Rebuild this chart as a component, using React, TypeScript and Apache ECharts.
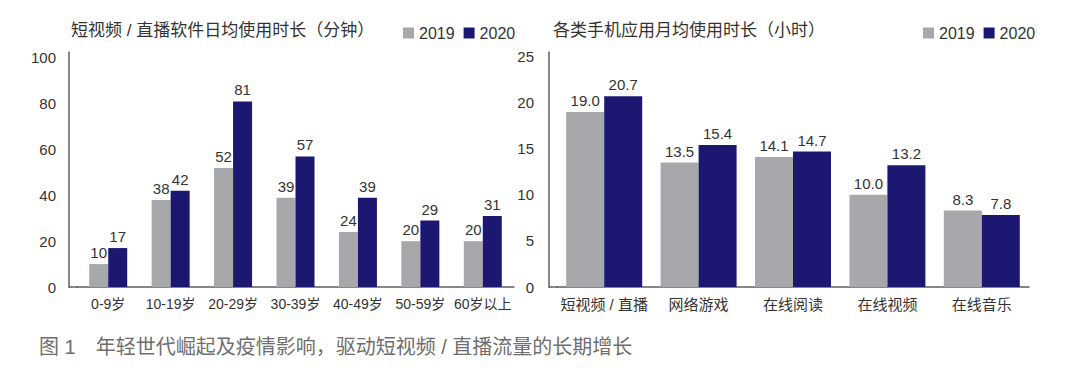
import React, { useEffect, useRef } from "react";
import * as echarts from "echarts";

const ageGroups = ["0-9岁", "10-19岁", "20-29岁", "30-39岁", "40-49岁", "50-59岁", "60岁以上"];
const dailyMinutes2019 = [10, 38, 52, 39, 24, 20, 20];
const dailyMinutes2020 = [17, 42, 81, 57, 39, 29, 31];

const appTypes = ["短视频 / 直播", "网络游戏", "在线阅读", "在线视频", "在线音乐"];
const monthlyHours2019 = [19.0, 13.5, 14.1, 10.0, 8.3];
const monthlyHours2020 = [20.7, 15.4, 14.7, 13.2, 7.8];

const leftTitle = "短视频 / 直播软件日均使用时长（分钟）";
const rightTitle = "各类手机应用月均使用时长（小时）";
const caption = "图 1　年轻世代崛起及疫情影响，驱动短视频 / 直播流量的长期增长";
const years = ["2019", "2020"];

const GRAY = "#a7a8ab";
const NAVY = "#1c1872";
const AXIS = "#5f5f5f";
const FONT = "'Liberation Sans', 'Noto Sans CJK SC', sans-serif";

export default function App() {
  const ref = useRef<HTMLDivElement>(null);
  useEffect(() => {
    if (!ref.current) return;
    const chart = echarts.init(ref.current, null, { renderer: "svg" });
    const labelStyle = { show: true, position: "top", color: "#333", fontSize: 15, fontFamily: FONT, distance: 4 };
    chart.setOption({
      animation: false,
      backgroundColor: "#fff",
      textStyle: { fontFamily: FONT },
      title: [
        { text: leftTitle, left: 66, top: 17, textStyle: { fontSize: 17, fontWeight: "normal", color: "#333", fontFamily: FONT } },
        { text: rightTitle, left: 548, top: 17, textStyle: { fontSize: 17, fontWeight: "normal", color: "#333", fontFamily: FONT } },
        { text: caption, left: 34, top: 332, textStyle: { fontSize: 20, fontWeight: "normal", color: "#6e6e6e", fontFamily: FONT } },
      ],
      legend: [
        { data: years, left: 398, top: 20, itemWidth: 11, itemHeight: 11, itemGap: 9, icon: "rect", textStyle: { fontSize: 16, color: "#333", fontFamily: FONT } },
        { data: years, left: 918, top: 20, itemWidth: 11, itemHeight: 11, itemGap: 9, icon: "rect", textStyle: { fontSize: 16, color: "#333", fontFamily: FONT } },
      ],
      grid: [
        { left: 77, top: 52, width: 437, height: 235 },
        { left: 557, top: 52, width: 472, height: 235 },
      ],
      xAxis: [
        {
          type: "category", gridIndex: 0, data: ageGroups,
          axisLine: { lineStyle: { color: AXIS, width: 1.5 } }, axisTick: { show: false },
          axisLabel: { fontSize: 14, color: "#333", margin: 10, fontFamily: FONT, interval: 0 },
        },
        {
          type: "category", gridIndex: 1, data: appTypes,
          axisLine: { lineStyle: { color: AXIS, width: 1.5 } }, axisTick: { show: false },
          axisLabel: { fontSize: 15, color: "#333", margin: 10, fontFamily: FONT, interval: 0 },
        },
      ],
      yAxis: [
        {
          type: "value", gridIndex: 0, min: 0, max: 102.6, interval: 20, offset: 8,
          axisLine: { show: true, lineStyle: { color: AXIS, width: 1.5 } }, axisTick: { show: false },
          splitLine: { show: false },
          axisLabel: { fontSize: 15, color: "#333", margin: 13, fontFamily: FONT, showMaxLabel: false },
        },
        {
          type: "value", gridIndex: 1, min: 0, max: 25.5, interval: 5, offset: 8,
          axisLine: { show: true, lineStyle: { color: AXIS, width: 1.5 } }, axisTick: { show: false },
          splitLine: { show: false },
          axisLabel: { fontSize: 15, color: "#333", margin: 15, fontFamily: FONT, showMaxLabel: false },
        },
      ],
      series: [
        { name: years[0], type: "bar", xAxisIndex: 0, yAxisIndex: 0, data: dailyMinutes2019, barWidth: 19, barGap: "0%", itemStyle: { color: GRAY }, label: labelStyle },
        { name: years[1], type: "bar", xAxisIndex: 0, yAxisIndex: 0, data: dailyMinutes2020, barWidth: 19, barGap: "0%", itemStyle: { color: NAVY }, label: labelStyle },
        { name: years[0], type: "bar", xAxisIndex: 1, yAxisIndex: 1, data: monthlyHours2019, barWidth: 38, barGap: "0%", itemStyle: { color: GRAY }, label: { ...labelStyle, formatter: (p: any) => Number(p.value).toFixed(1) } },
        { name: years[1], type: "bar", xAxisIndex: 1, yAxisIndex: 1, data: monthlyHours2020, barWidth: 38, barGap: "0%", itemStyle: { color: NAVY }, label: { ...labelStyle, formatter: (p: any) => Number(p.value).toFixed(1) } },
      ],
      graphic: [
        { type: "line", shape: { x1: 68.5, y1: 287, x2: 78, y2: 287 }, style: { stroke: AXIS, lineWidth: 1.5 } },
        { type: "line", shape: { x1: 548.5, y1: 287, x2: 558, y2: 287 }, style: { stroke: AXIS, lineWidth: 1.5 } },
      ],
    });
    return () => chart.dispose();
  }, []);
  return <div ref={ref} style={{ width: 1080, height: 377, position: "absolute", left: 0, top: 0 }} />;
}
